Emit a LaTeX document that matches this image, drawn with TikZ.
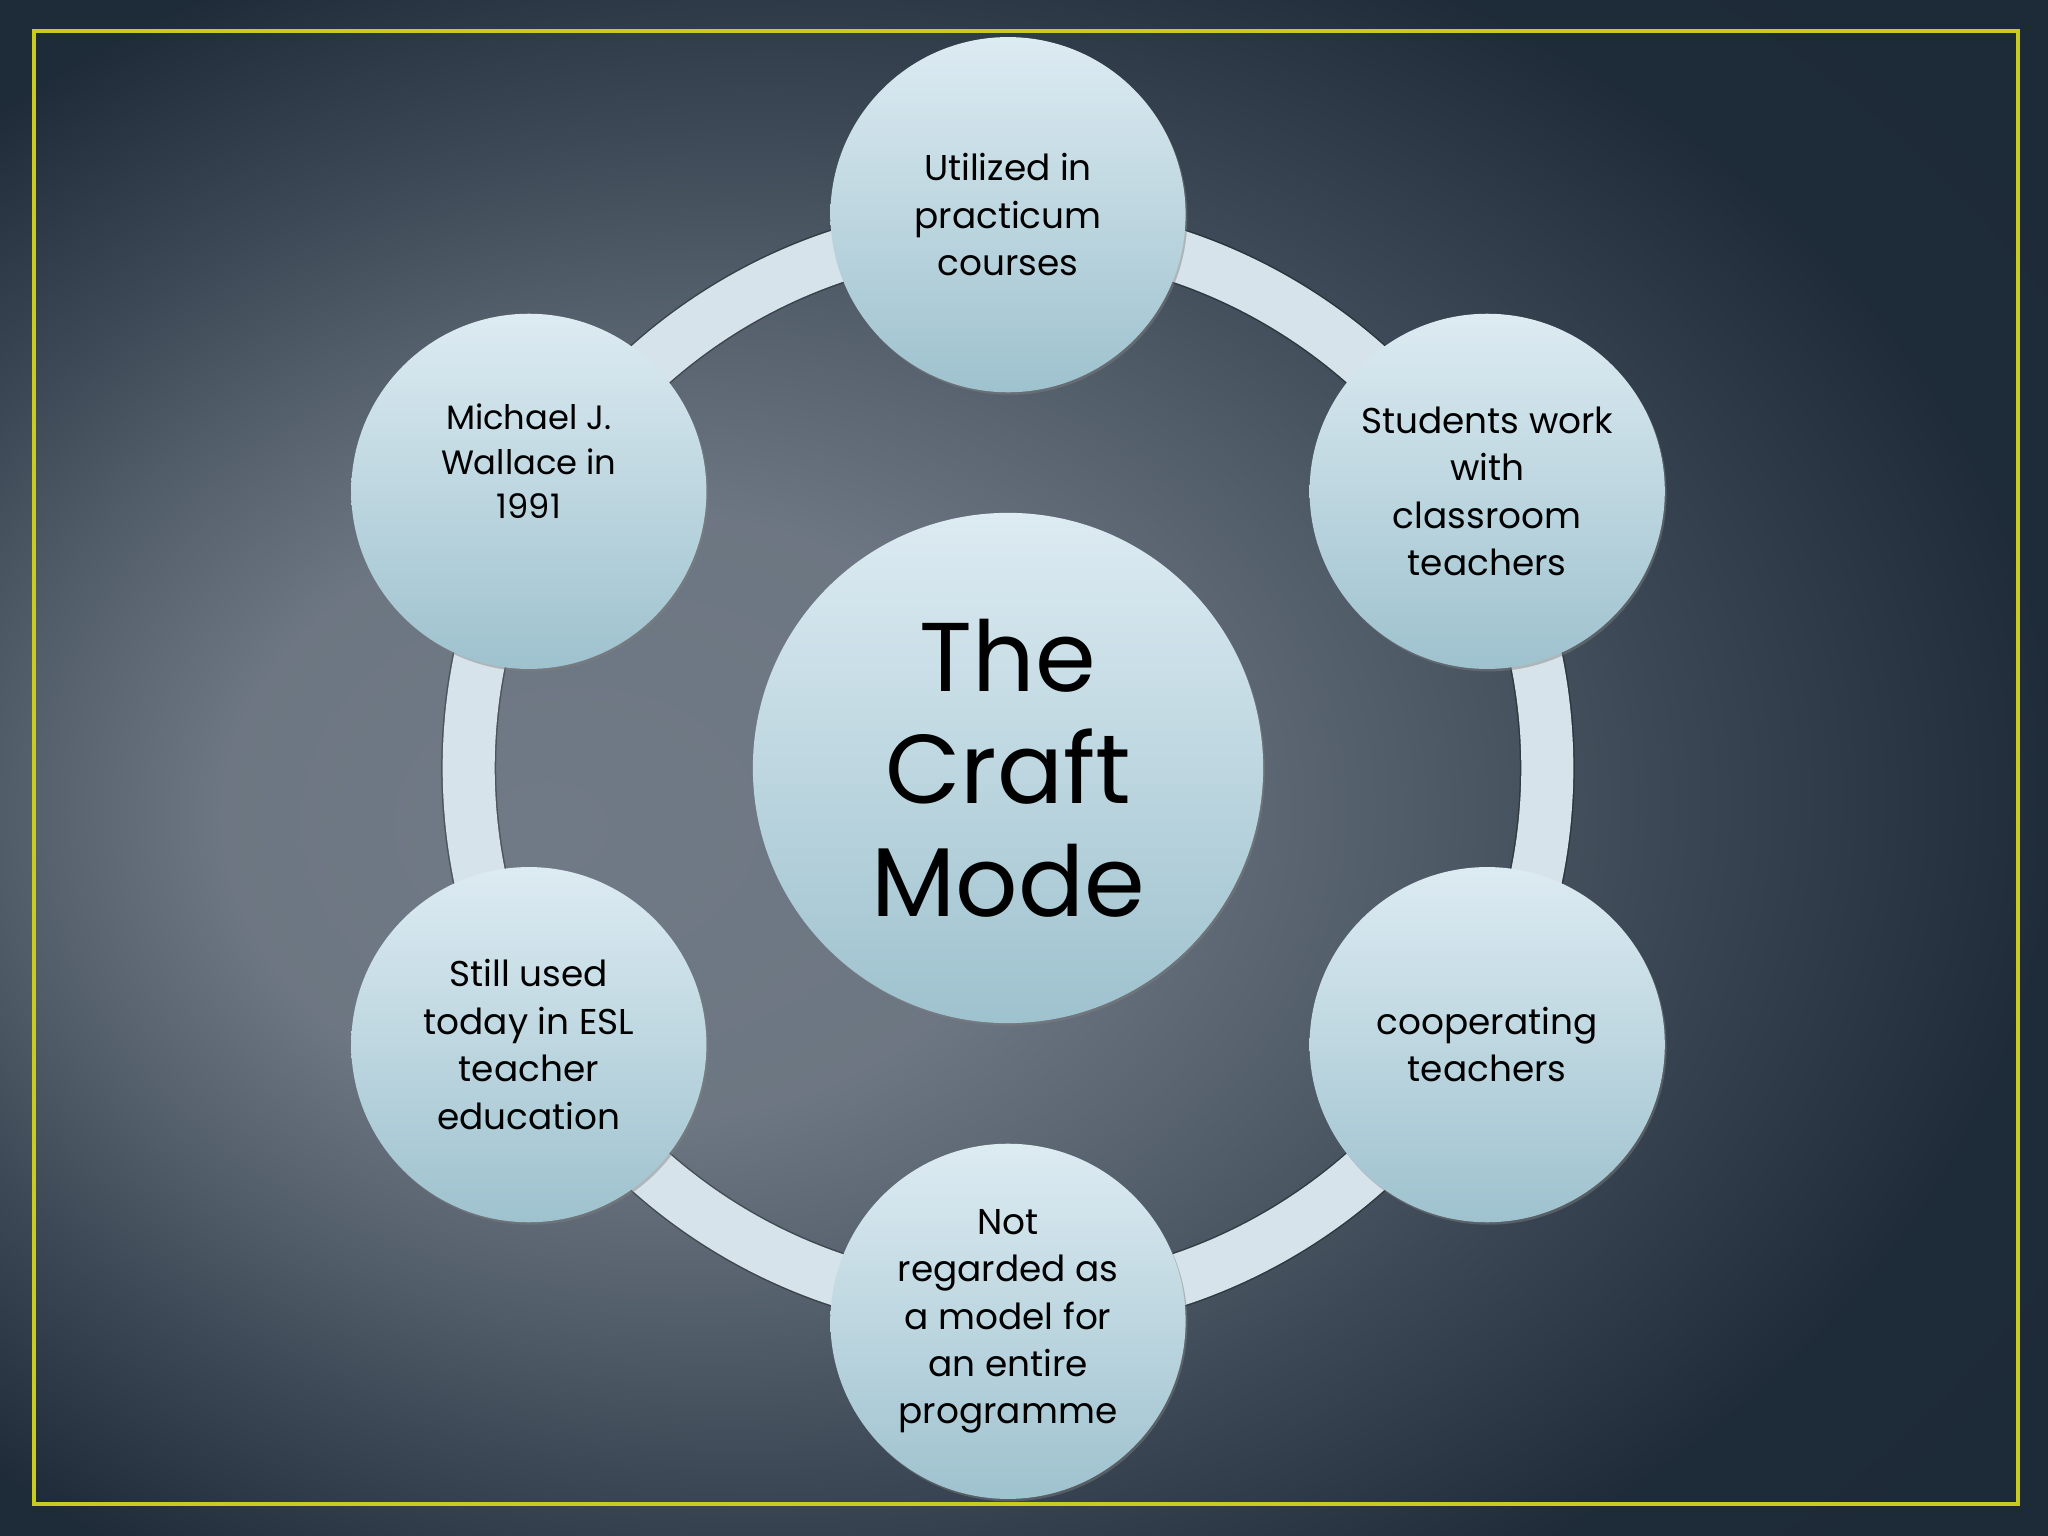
\documentclass[tikz,border=0pt]{standalone}
\usepackage{fontspec}
\setmainfont{Poppins}
\usetikzlibrary{shadows}

\definecolor{bgdark}{HTML}{1A2735}
\definecolor{bgmid}{HTML}{707A86}
\definecolor{bubbletop}{HTML}{DDEBF2}
\definecolor{bubblebot}{HTML}{9EC2CE}
\definecolor{ringcol}{HTML}{D6E3EA}
\definecolor{frameyellow}{HTML}{C9CB21}

\pgfdeclareradialshading{slidebg}{\pgfpoint{-12bp}{-2bp}}{color(0bp)=(bgmid); color(10bp)=(bgmid!97!black); color(17bp)=(bgmid!65!bgdark); color(22bp)=(bgmid!40!bgdark); color(30bp)=(bgmid!5!bgdark); color(50bp)=(bgdark)}

\begin{document}
\begin{tikzpicture}[x=0.01cm, y=0.01cm,
    bubble/.style={circle, minimum size=3.55cm, inner sep=0pt, text=black,
        top color=bubbletop, bottom color=bubblebot,
        drop shadow={shadow xshift=0.5pt, shadow yshift=-0.7pt, opacity=0.45},
        align=center, font=\fontsize{10.2}{13.5}\selectfont},
    hub/.style={bubble, minimum size=5.1cm, font=\fontsize{27.8}{32}\selectfont}]
    \useasboundingbox (0,0) rectangle (2048,1535);
    \shade[shading=slidebg] (0,0) rectangle (2048,1535);
    \draw[frameyellow, line width=0.04cm] (34,31) rectangle (2018,1504);

    \coordinate (centre) at (1008,767);
    % the cycle behind the bubbles
    \draw[black, opacity=0.3, line width=0.55cm] (centre) circle [radius=5.39cm];
    \draw[ringcol, line width=0.52cm] (centre) circle [radius=5.39cm];

    \node[hub] (craft) at (centre) {The\\Craft\\Mode};

    \foreach \ang/\nm/\txt in {90/practicum/{Utilized in\\practicum\\courses},
            30/students/{Students work\\with\\classroom\\teachers},
            -30/cooperating/{cooperating\\teachers},
            -90/programme/{Not\\regarded as\\a model for\\an entire\\programme},
            -150/esl/{Still used\\today in ESL\\teacher\\education}}
        \node[bubble] (\nm) at ([shift={(\ang:5.53cm)}]centre) {\txt};

    \node[bubble] (wallace) at ([shift={(150:5.53cm)}]centre) {};
    \node[align=center, font=\fontsize{9.6}{12.6}\selectfont] (wallacetxt)
        at ([yshift=0.3cm]wallace) {Michael J.\\Wallace in\\1991};
\end{tikzpicture}
\end{document}
